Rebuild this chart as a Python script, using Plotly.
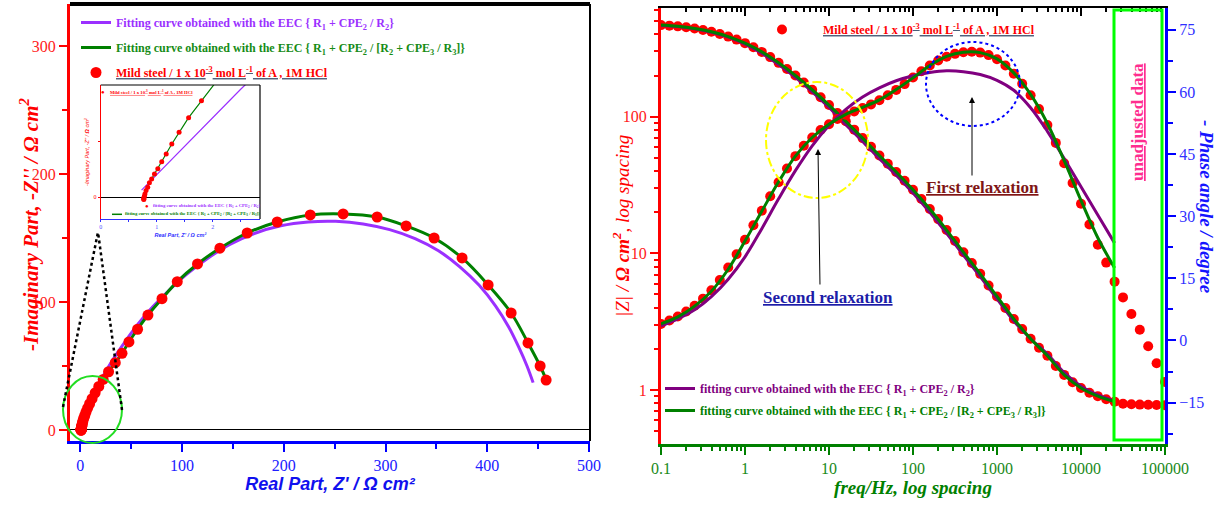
import plotly.graph_objects as go

# ---------------------------------------------------------------- data
# Nyquist diagram, measured points (from low to high frequency)
nyq_zre = [457.8, 451.9, 440.0, 423.4, 400.8, 375.2, 347.7, 320.2, 291.7, 258.3,
           226.0, 193.5, 164.0, 137.2, 115.2, 95.3, 80.3, 66.5, 56.3, 47.8,
           41.0, 34.4, 27.8, 22.5, 18.2, 14.6, 11.6, 9.2, 7.2, 5.6,
           4.4, 3.4, 2.7, 2.15, 1.80, 1.57, 1.40, 1.27, 1.17, 1.09,
           1.02, 0.96, 0.91, 0.87, 0.84, 0.81, 0.79, 0.78, 0.77, 0.77, 0.77]
nyq_zim = [39.0, 50.0, 68.0, 91.4, 113.3, 134.4, 150.0, 159.4, 166.4, 168.8,
           168.0, 162.5, 153.9, 142.0, 129.7, 115.9, 102.6, 89.8, 78.7, 68.8,
           59.9, 52.6, 45.5, 39.5, 34.0, 29.0, 24.5, 20.5, 17.0, 14.0,
           11.4, 9.2, 7.4, 5.8, 4.29, 3.54, 2.89, 2.37, 1.92, 1.58,
           1.27, 1.04, 0.81, 0.65, 0.45, 0.30, 0.15, 0.05, -0.03, -0.07, -0.10]

# Nyquist diagram, fitted curve R1 + CPE2 / R2
fit1_zre = [0.73, 1.2, 2.5, 5, 9, 14, 20, 27, 35, 45, 57, 71, 87, 105, 125, 147,
            171, 197, 224, 251, 278, 304, 329, 352, 373, 392, 408, 421, 431, 439, 445]
fit1_zim = [0.32, 1.5, 4.8, 10.8, 19, 28.5, 38.5, 48.5, 58.5, 70, 83, 96, 109, 122, 134, 145,
            153.5, 159.5, 162.5, 163, 161, 156.5, 149.5, 140, 127.5, 113, 97, 80.5, 64.5, 50, 37]

# Nyquist diagram, fitted curve R1 + CPE2 / [R2 + CPE3 / R3]
fit2_zre = [0.77, 0.80, 0.87, 0.96, 1.09, 1.27, 1.57, 1.80, 2.15, 2.7, 3.5, 5.0, 7.0, 9.5,
            12.5, 16.0, 20.0, 24.0, 27.8, 34.4, 41.0, 47.8, 56.3, 66.5, 80.3, 95.3, 115.2,
            137.2, 164.0, 193.5, 226.0, 258.3, 291.7, 320.2, 347.7, 375.2, 400.8, 423.4,
            440.0, 451.9, 458.5]
fit2_zim = [-0.10, 0.30, 0.65, 1.04, 1.58, 2.37, 3.54, 4.30, 5.5, 7.2, 9.2, 12.3, 15.8, 19.8,
            24.3, 29.3, 35.0, 40.5, 45.5, 52.6, 59.9, 68.8, 78.7, 89.8, 102.6, 115.9, 129.7,
            142.0, 153.9, 162.5, 168.0, 168.8, 166.4, 159.4, 150.0, 134.4, 113.3, 91.4,
            68.0, 50.0, 38.0]

# Bode diagram, measured points
freq = [0.1, 0.1259, 0.1585, 0.1995, 0.2512, 0.3162, 0.3981, 0.5012, 0.631, 0.7943,
        1, 1.259, 1.585, 1.995, 2.512, 3.162, 3.981, 5.012, 6.31, 7.943,
        10, 12.59, 15.85, 19.95, 25.12, 31.62, 39.81, 50.12, 63.1, 79.43,
        100, 125.9, 158.5, 199.5, 251.2, 316.2, 398.1, 501.2, 631, 794.3,
        1000, 1259, 1585, 1995, 2512, 3162, 3981, 5012, 6310, 7943,
        10000, 12589, 15849, 19953, 25119, 31623, 39811, 50119, 63096, 79433, 100000]
mod_z = [467.7, 463.4, 458.1, 450.8, 441.6, 430.5, 417.8, 402.7, 385.5, 366.4,
         345.1, 322.1, 297.8, 272.9, 247.7, 223.4, 200.0, 177.8, 157.4, 138.7,
         121.6, 106.2, 92.5, 80.4, 69.7, 60.3, 52.0, 45.2, 39.4, 34.0,
         29.2, 25.0, 21.1, 17.8, 14.8, 12.3, 10.2, 8.51, 7.08, 5.82,
         4.84, 3.98, 3.31, 2.79, 2.37, 2.04, 1.78, 1.50, 1.29, 1.14,
         1.035, 0.955, 0.902, 0.857, 0.822, 0.794, 0.787, 0.782, 0.780, 0.776, 0.774]
phase = [4.0, 4.8, 5.8, 7.0, 8.4, 10.1, 12.1, 14.6, 17.6, 20.8,
         24.3, 27.8, 31.3, 34.8, 38.2, 41.5, 44.5, 47.0, 49.0, 50.8,
         52.2, 53.5, 54.5, 55.3, 56.1, 57.0, 58.0, 59.2, 60.5, 61.9,
         63.5, 65.0, 66.4, 67.6, 68.5, 69.2, 69.6, 69.7, 69.5, 68.9,
         67.9, 66.4, 64.4, 62.0, 59.2, 55.9, 52.0, 47.7, 42.8, 38.0,
         33.0, 28.0, 23.1, 18.8, 14.2, 10.4, 6.4, 2.6, -1.4, -5.5, -10.0]

# Bode diagram, fitted curves (fit window 0.1 Hz - 25 kHz)
fit_freq = [0.1, 0.1585, 0.2512, 0.3981, 0.631, 1, 1.585, 2.512, 3.981, 6.31,
            10, 15.85, 25.12, 39.81, 63.1, 100, 158.5, 251.2, 398.1, 631,
            1000, 1585, 2512, 3981, 6310, 10000, 15849, 25119]
fit1_mod = [465, 456, 439, 415, 382, 340, 291, 241, 194, 152,
            117, 87.5, 66.0, 49.2, 37.3, 27.7, 20.0, 14.0, 9.7, 6.75,
            4.65, 3.2, 2.37, 1.83, 1.34, 1.066, 0.92, 0.83]
fit1_phase = [3.5, 5.2, 7.4, 10.6, 14.8, 20.2, 27.0, 34.2, 41.0, 47.0,
              51.9, 55.8, 58.8, 61.0, 62.7, 63.9, 64.7, 65.1, 64.9, 64.2,
              62.8, 60.4, 56.2, 50.5, 43.9, 37.1, 30.3, 23.5]
fit2_mod = [467.7, 458.1, 441.6, 417.8, 385.5, 345.1, 297.8, 247.7, 200.0, 157.4,
            121.6, 92.5, 69.7, 52.0, 39.4, 29.2, 21.1, 14.8, 10.2, 7.08,
            4.84, 3.31, 2.37, 1.78, 1.29, 1.035, 0.902, 0.822]
fit2_phase = [4.0, 5.7, 8.3, 11.9, 17.2, 24.0, 31.2, 38.3, 44.5, 49.0,
              52.2, 54.6, 56.3, 58.1, 60.6, 63.4, 66.4, 68.6, 69.6, 69.5,
              68.0, 64.6, 59.4, 52.4, 43.4, 33.8, 24.8, 17.5]

# ---------------------------------------------------------------- styling
W, H = 1221, 506
SERIF = "Liberation Serif"
SANS = "Liberation Sans"
RED = "#ff0000"
VIOLET = "#9b30ff"
PURPLE = "#800080"
GREEN = "#008000"
BLUE = "#0000ff"


def px(x):
    return x / W


def py(y):
    return 1 - y / H


EEC1 = "{ R<sub>1</sub> + CPE<sub>2</sub> / R<sub>2</sub>}"
EEC2 = "{ R<sub>1</sub> + CPE<sub>2</sub> / [R<sub>2</sub> + CPE<sub>3</sub> / R<sub>3</sub>]}"
SAMPLE = "Mild steel / 1 x 10<sup>-3</sup> mol L<sup>-1</sup> of A , 1M HCl"

fig = go.Figure()

# ---- Nyquist (main)
fig.add_trace(go.Scatter(
    x=fit1_zre, y=fit1_zim, mode="lines", xaxis="x", yaxis="y",
    line=dict(color=VIOLET, width=3, shape="spline"),
    name=f'<b><span style="color:{VIOLET}">Fitting curve obtained with the EEC {EEC1}</span></b>',
    legend="legend", legendgroup="n1"))
fig.add_trace(go.Scatter(
    x=fit2_zre, y=fit2_zim, mode="lines", xaxis="x", yaxis="y",
    line=dict(color=GREEN, width=3, shape="spline"),
    name=f'<b><span style="color:#168c16">Fitting curve obtained with the EEC {EEC2}</span></b>',
    legend="legend", legendgroup="n2"))
fig.add_trace(go.Scatter(
    x=nyq_zre, y=nyq_zim, mode="markers", xaxis="x", yaxis="y",
    marker=dict(color=RED, size=11),
    name=f'<b><u><span style="color:{RED}">{SAMPLE}</span></u></b>',
    legend="legend", legendgroup="n3"))

# ---- Nyquist (inset, high frequency zoom)
fig.add_trace(go.Scatter(
    x=fit1_zre, y=fit1_zim, mode="lines", xaxis="x2", yaxis="y2",
    line=dict(color=VIOLET, width=1.2), showlegend=False))
fig.add_trace(go.Scatter(
    x=fit2_zre, y=fit2_zim, mode="lines", xaxis="x2", yaxis="y2",
    line=dict(color=GREEN, width=1.2), showlegend=False))
fig.add_trace(go.Scatter(
    x=nyq_zre, y=nyq_zim, mode="markers", xaxis="x2", yaxis="y2",
    marker=dict(color=RED, size=5), showlegend=False))

# ---- Bode
fig.add_trace(go.Scatter(
    x=freq, y=mod_z, mode="markers", xaxis="x3", yaxis="y3",
    marker=dict(color=RED, size=10),
    name="&nbsp;" * 7 + f'<b><u><span style="color:{RED}">{SAMPLE}</span></u></b>',
    legend="legend3"))
fig.add_trace(go.Scatter(
    x=fit_freq, y=fit1_mod, mode="lines", xaxis="x3", yaxis="y3",
    line=dict(color=PURPLE, width=3, shape="spline"),
    name=f'<b><span style="color:{PURPLE}">fitting curve obtained with the EEC {EEC1}</span></b>',
    legend="legend2", legendgroup="b1"))
fig.add_trace(go.Scatter(
    x=fit_freq, y=fit2_mod, mode="lines", xaxis="x3", yaxis="y3",
    line=dict(color=GREEN, width=3, shape="spline"),
    name=f'<b><span style="color:{GREEN}">fitting curve obtained with the EEC {EEC2}</span></b>',
    legend="legend2", legendgroup="b2"))
fig.add_trace(go.Scatter(
    x=freq, y=phase, mode="markers", xaxis="x3", yaxis="y4",
    marker=dict(color=RED, size=10), showlegend=False))
fig.add_trace(go.Scatter(
    x=fit_freq, y=fit1_phase, mode="lines", xaxis="x3", yaxis="y4",
    line=dict(color=PURPLE, width=3, shape="spline"), showlegend=False))
fig.add_trace(go.Scatter(
    x=fit_freq, y=fit2_phase, mode="lines", xaxis="x3", yaxis="y4",
    line=dict(color=GREEN, width=3, shape="spline"), showlegend=False))
# carrier for the black top frequency axis
fig.add_trace(go.Scatter(x=[None], y=[None], xaxis="x4", yaxis="y3",
                         showlegend=False, hoverinfo="skip"))

# ---------------------------------------------------------------- axes
decades = [0.1, 1, 10, 100, 1000, 10000, 100000]
decade_text = ["0.1", "1", "10", "100", "1000", "10000", "100000"]
freq_minor = [m * 10.0 ** e for e in range(-1, 5) for m in range(2, 10)]
modz_minor = [m * 10.0 ** e for e in range(-1, 3) for m in range(2, 10)
              if 0.4 <= m * 10.0 ** e <= 600]


def lin_axis(color, **kw):
    d = dict(showline=True, linecolor=color, showgrid=False, zeroline=False,
             ticks="outside", tickcolor=color, automargin=False)
    d.update(kw)
    return d


layout = dict(
    width=W, height=H, margin=dict(l=0, r=0, t=0, b=0, autoexpand=False),
    paper_bgcolor="white", plot_bgcolor="white", showlegend=True,
    xaxis=lin_axis(
        BLUE, domain=[px(70), px(590)], range=[-10.1, 500.9], anchor="y",
        linewidth=3, ticklen=8, tickwidth=2, tickmode="linear", tick0=0, dtick=100,
        minor=dict(ticks="outside", ticklen=5, tickwidth=2, tickcolor=BLUE, dtick=50),
        tickfont=dict(family=SERIF, size=16, color="#2020ff"),
        title=dict(text="<b><i>Real Part, Z' / Ω cm²</i></b>",
                   font=dict(family=SANS, size=18, color="#1010ee"), standoff=4)),
    yaxis=lin_axis(
        RED, domain=[py(441), py(4)], range=[-8.6, 332.8], anchor="x",
        linewidth=3, ticklen=8, tickwidth=2, tickmode="linear", tick0=0, dtick=100,
        minor=dict(ticks="outside", ticklen=5, tickwidth=2, tickcolor=RED, dtick=50),
        zeroline=True, zerolinecolor="black", zerolinewidth=1,
        tickfont=dict(family=SERIF, size=16, color="#ff2020")),
    xaxis2=lin_axis(
        "#3030ff", domain=[px(100.7), px(260)], range=[0, 2.845], anchor="y2",
        linewidth=1.2, ticklen=2, tickwidth=1, tickmode="linear", tick0=0, dtick=1,
        minor=dict(ticks="outside", ticklen=1.5, tickcolor="#3030ff", dtick=0.5),
        tickfont=dict(family=SERIF, size=6, color="#5555ff"),
        title=dict(text="<b><i>Real Part, Z' / Ω cm²</i></b>",
                   font=dict(family=SANS, size=5.5, color="#3030ff"), standoff=3)),
    yaxis2=lin_axis(
        RED, domain=[py(219), py(85)], range=[-0.964, 4.99], anchor="x2",
        linewidth=1.2, ticklen=2, tickwidth=1, tickmode="linear", tick0=0, dtick=5,
        minor=dict(ticks="outside", ticklen=1.5, tickcolor=RED, dtick=2.5),
        zeroline=True, zerolinecolor="black", zerolinewidth=1,
        tickfont=dict(family=SERIF, size=6, color=RED),
        title=dict(text="<i>-Imaginary Part, -Z'' / <b>Ω</b> cm<sup>2</sup></i>",
                   font=dict(family=SANS, size=5.5, color=RED), standoff=3)),
    xaxis3=lin_axis(
        GREEN, type="log", domain=[px(661), px(1165)], range=[-1, 5], anchor="y3",
        linewidth=3, ticklen=8, tickwidth=2, tickmode="array",
        tickvals=decades, ticktext=decade_text,
        minor=dict(ticks="outside", ticklen=4, tickwidth=2, tickcolor=GREEN,
                   tickmode="array", tickvals=freq_minor),
        tickfont=dict(family=SERIF, size=16, color="#1a8a1a"),
        title=dict(text="<b><i>freq/Hz, log spacing</i></b>",
                   font=dict(family=SERIF, size=19, color=GREEN), standoff=4)),
    xaxis4=dict(
        type="log", range=[-1, 5], overlaying="x3", anchor="y3", side="top",
        showline=True, linecolor="black", linewidth=2, showgrid=False, zeroline=False,
        ticks="inside", ticklen=8, tickwidth=2, tickcolor="black", automargin=False,
        tickmode="array", tickvals=decades, showticklabels=False,
        minor=dict(ticks="inside", ticklen=4, tickwidth=2, tickcolor="black",
                   tickmode="array", tickvals=freq_minor)),
    yaxis3=lin_axis(
        RED, type="log", domain=[py(444), py(8.3)], range=[-0.395, 2.793], anchor="x3",
        linewidth=3, ticklen=8, tickwidth=2, tickmode="array",
        tickvals=[1, 10, 100], ticktext=["1", "10", "100"],
        minor=dict(ticks="outside", ticklen=4, tickwidth=2, tickcolor=RED,
                   tickmode="array", tickvals=modz_minor),
        tickfont=dict(family=SERIF, size=16, color="#ff2020")),
    yaxis4=lin_axis(
        BLUE, range=[-25, 80.2], overlaying="y3", anchor="x3", side="right",
        linewidth=3, ticklen=8, tickwidth=2, tickmode="array",
        tickvals=[-15, 0, 15, 30, 45, 60, 75],
        minor=dict(ticks="outside", ticklen=5, tickwidth=2, tickcolor=BLUE,
                   tickmode="array", tickvals=[-22.5, -7.5, 7.5, 22.5, 37.5, 52.5, 67.5]),
        tickfont=dict(family=SERIF, size=16, color="#3030ff")),
    legend=dict(x=px(76), y=py(8), xanchor="left", yanchor="top",
                bgcolor="rgba(0,0,0,0)", font=dict(family=SERIF, size=12),
                tracegroupgap=6),
    legend2=dict(x=px(660), y=py(374), xanchor="left", yanchor="top",
                 bgcolor="rgba(0,0,0,0)", font=dict(family=SERIF, size=12),
                 tracegroupgap=3),
    legend3=dict(x=px(762), y=py(15), xanchor="left", yanchor="top",
                 bgcolor="rgba(0,0,0,0)", font=dict(family=SERIF, size=12)),
)
fig.update_layout(**layout)

# ---------------------------------------------------------------- decorations
shapes = [
    # black frame on the top/right of the Nyquist plot
    dict(type="line", xref="x domain", yref="y domain", x0=0, x1=1, y0=1, y1=1,
         line=dict(color="black", width=4)),
    dict(type="line", xref="x domain", yref="y domain", x0=1, x1=1, y0=0, y1=1,
         line=dict(color="black", width=2)),
    # black frame on the top/right of the inset
    dict(type="line", xref="x2 domain", yref="y2 domain", x0=0, x1=1, y0=1, y1=1,
         line=dict(color="black", width=1.2)),
    dict(type="line", xref="x2 domain", yref="y2 domain", x0=1, x1=1, y0=0, y1=1,
         line=dict(color="black", width=1.2)),
    # zoom marker: circle around the high-frequency region + guide lines to the inset
    dict(type="circle", xref="paper", yref="paper",
         x0=px(63), x1=px(122), y0=py(443), y1=py(376),
         line=dict(color="#22dd22", width=2)),
    dict(type="line", xref="paper", yref="paper", x0=px(63), y0=py(407), x1=px(98), y1=py(232),
         line=dict(color="black", width=2.5, dash="dot")),
    dict(type="line", xref="paper", yref="paper", x0=px(122), y0=py(410), x1=px(98), y1=py(232),
         line=dict(color="black", width=2.5, dash="dot")),
    # Bode: relaxation markers and unadjusted-data window
    dict(type="circle", xref="paper", yref="paper",
         x0=px(766), x1=px(868), y0=py(198), y1=py(82),
         line=dict(color="#ffff00", width=2, dash="dashdot")),
    dict(type="circle", xref="paper", yref="paper",
         x0=px(926), x1=px(1020), y0=py(126), y1=py(42),
         line=dict(color=BLUE, width=2, dash="dot")),
    dict(type="rect", xref="paper", yref="paper",
         x0=px(1114), x1=px(1162), y0=py(440), y1=py(10),
         line=dict(color="#00ff00", width=3)),
    # inset legend line sample
    dict(type="line", xref="paper", yref="paper", x0=px(112), x1=px(122), y0=py(214.3), y1=py(214.3),
         line=dict(color=GREEN, width=1.5)),
]


def note(x, y, text, size, color, family=SERIF, angle=0, xanchor="center"):
    return dict(x=px(x), y=py(y), xref="paper", yref="paper", showarrow=False,
                textangle=angle, xanchor=xanchor, yanchor="middle", text=text,
                font=dict(family=family, size=size, color=color))


def arrow(x_head, y_head, x_tail, y_tail):
    return dict(x=px(x_head), y=py(y_head), xref="paper", yref="paper", text="",
                showarrow=True, ax=x_tail - x_head, ay=y_tail - y_head,
                arrowhead=2, arrowsize=1.2, arrowwidth=1, arrowcolor="black")


annotations = [
    note(29, 225, "<b><i>-Imaginary Part, -Z'' / Ω cm<sup>2</sup></i></b>", 21, RED, angle=-90),
    note(1207, 207, "<b><i>- Phase angle / degree</i></b>", 19, "#1515ff", angle=90),
    note(621, 226, "<i>|Z| / <b>Ω cm<sup>2</sup></b>, log spacing</i>", 19, RED, angle=-90),
    note(982, 187, "<b><u>First relaxation</u></b>", 17, "#801515"),
    note(828, 297, "<b><u>Second relaxation</u></b>", 17, "#1c1ca8"),
    note(1138, 122, "<b><u>unadjusted data</u></b>", 17, "#ff2d8f", angle=-90),
    arrow(818, 149, 820, 286),
    arrow(972, 97, 972, 177),
    # inset legend
    note(103, 92, "●", 6, RED),
    note(108, 92, f"<b><u>{SAMPLE}</u></b>", 4.7, RED, xanchor="left"),
    note(146.7, 206, "●", 6, RED),
    note(151, 206, f"<b>fitting curve obtained with the EEC {EEC1}</b>", 4.7, VIOLET,
         xanchor="left"),
    note(123, 214.3, f"<b>fitting curve obtained with the EEC {EEC2}</b>", 4.7, GREEN,
         xanchor="left"),
]

fig.update_layout(shapes=shapes, annotations=annotations)
fig.write_html("out.html")
